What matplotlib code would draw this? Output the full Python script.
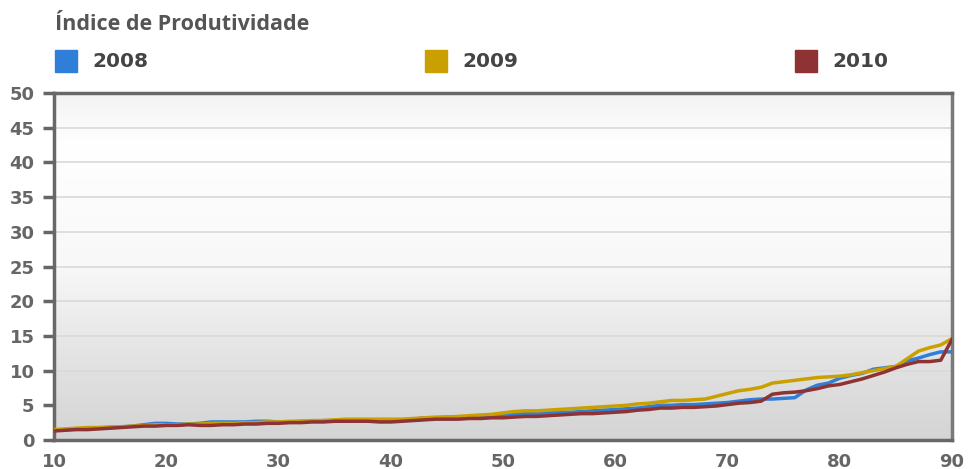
import numpy as np
import matplotlib.pyplot as plt
from matplotlib.colors import LinearSegmentedColormap
from matplotlib.patches import Rectangle

x = list(range(10, 91))

serie_2008 = [1.4, 1.5, 1.6, 1.7, 1.7, 1.8, 1.9, 2.0, 2.2, 2.4,
              2.4, 2.3, 2.3, 2.4, 2.6, 2.6, 2.6, 2.6, 2.7, 2.7,
              2.6, 2.6, 2.7, 2.7, 2.8, 2.8, 2.9, 2.9, 2.9, 2.9,
              2.9, 2.9, 3.0, 3.2, 3.2, 3.3, 3.3, 3.3, 3.4, 3.5,
              3.6, 3.7, 3.8, 3.8, 3.9, 4.0, 4.0, 4.1, 4.2, 4.3,
              4.4, 4.5, 4.6, 4.8, 5.0, 5.0, 5.1, 5.1, 5.2, 5.3,
              5.4, 5.6, 5.8, 5.9, 5.9, 6.0, 6.1, 7.2, 7.9, 8.2,
              8.9, 9.3, 9.6, 10.2, 10.4, 10.6, 11.4, 11.8, 12.3, 12.7,
              12.7]
serie_2009 = [1.5, 1.6, 1.7, 1.8, 1.8, 1.9, 1.9, 2.0, 2.1, 2.2,
              2.2, 2.2, 2.3, 2.3, 2.4, 2.4, 2.4, 2.5, 2.5, 2.6,
              2.6, 2.7, 2.7, 2.8, 2.8, 2.9, 3.0, 3.0, 3.0, 3.0,
              3.0, 3.0, 3.1, 3.2, 3.3, 3.3, 3.4, 3.5, 3.6, 3.7,
              3.9, 4.1, 4.2, 4.2, 4.3, 4.4, 4.5, 4.6, 4.7, 4.8,
              4.9, 5.0, 5.2, 5.3, 5.5, 5.7, 5.7, 5.8, 5.9, 6.3,
              6.7, 7.1, 7.3, 7.6, 8.2, 8.4, 8.6, 8.8, 9.0, 9.1,
              9.2, 9.4, 9.7, 10.0, 10.3, 10.6, 11.7, 12.8, 13.3, 13.7,
              14.6]
serie_2010 = [1.3, 1.4, 1.5, 1.5, 1.6, 1.7, 1.8, 1.9, 2.0, 2.0,
              2.1, 2.1, 2.2, 2.1, 2.1, 2.2, 2.2, 2.3, 2.3, 2.4,
              2.4, 2.5, 2.5, 2.6, 2.6, 2.7, 2.7, 2.7, 2.7, 2.6,
              2.6, 2.7, 2.8, 2.9, 3.0, 3.0, 3.0, 3.1, 3.1, 3.2,
              3.2, 3.3, 3.4, 3.4, 3.5, 3.6, 3.7, 3.8, 3.8, 3.9,
              4.0, 4.1, 4.3, 4.4, 4.6, 4.6, 4.7, 4.7, 4.8, 4.9,
              5.1, 5.3, 5.4, 5.6, 6.6, 6.8, 6.9, 7.1, 7.4, 7.8,
              8.0, 8.4, 8.8, 9.3, 9.8, 10.4, 10.9, 11.3, 11.3, 11.5,
              14.5]

anos = ['2008', '2009', '2010']
cores = ['#2f7fd8', '#c9a000', '#8e3234']
series = [serie_2008, serie_2009, serie_2010]

y_ticks = list(range(0, 51, 5))
x_ticks = list(range(10, 91, 10))

fig = plt.figure(figsize=(9.71, 4.69), dpi=100)
ax = fig.add_axes([54/971, 1-440/469, (952-54)/971, (440-93)/469])

# fundo em degrade (cinza embaixo, branco em cima)
grad = LinearSegmentedColormap.from_list(
    'fundo', [(0.0, '#d4d4d4'), (0.25, '#e4e4e4'), (0.5, '#f8f8f8'),
              (0.85, '#ffffff'), (1.0, '#f3f3f3')])
ax.imshow(np.linspace(0, 1, 256).reshape(-1, 1), cmap=grad, origin='lower',
          extent=[10, 90, 0, 50], aspect='auto', zorder=0)

for yt in y_ticks[1:-1]:
    ax.axhline(yt, color='#d9d9d9', lw=1.2, zorder=1)

for s, c in zip(series, cores):
    ax.plot(x, s, color=c, lw=2.5, zorder=3, solid_joinstyle='round')

ax.set_xlim(10, 90)
ax.set_ylim(0, 50)
ax.set_xticks(x_ticks)
ax.set_yticks(y_ticks)
ax.tick_params(axis='y', length=8, width=2.5, color='#666666', pad=6,
               labelsize=13, labelcolor='#666666')
ax.tick_params(axis='x', length=0, pad=9, labelsize=13, labelcolor='#666666')
for lab in ax.get_xticklabels() + ax.get_yticklabels():
    lab.set_fontweight('bold')

for side in ['left', 'bottom', 'top']:
    ax.spines[side].set_color('#686868')
    ax.spines[side].set_linewidth(2.5)
ax.spines['right'].set_color('#7a7a7a')
ax.spines['right'].set_linewidth(2.5)

fig.text(55/971, 1-24/469, 'Índice de Produtividade', fontsize=15.5,
         fontweight='bold', color='#555555', va='center', family='Open Sans')

leg_x = [55, 425, 795]
for lx, ano, c in zip(leg_x, anos, cores):
    fig.patches.append(Rectangle((lx/971, 1-72/469), 22/971, 22/469,
                                 transform=fig.transFigure, color=c))
    fig.text((lx+37)/971, 1-61/469, ano, fontsize=14.5, fontweight='bold',
             color='#444444', va='center')

plt.savefig('out.png', dpi=100)
